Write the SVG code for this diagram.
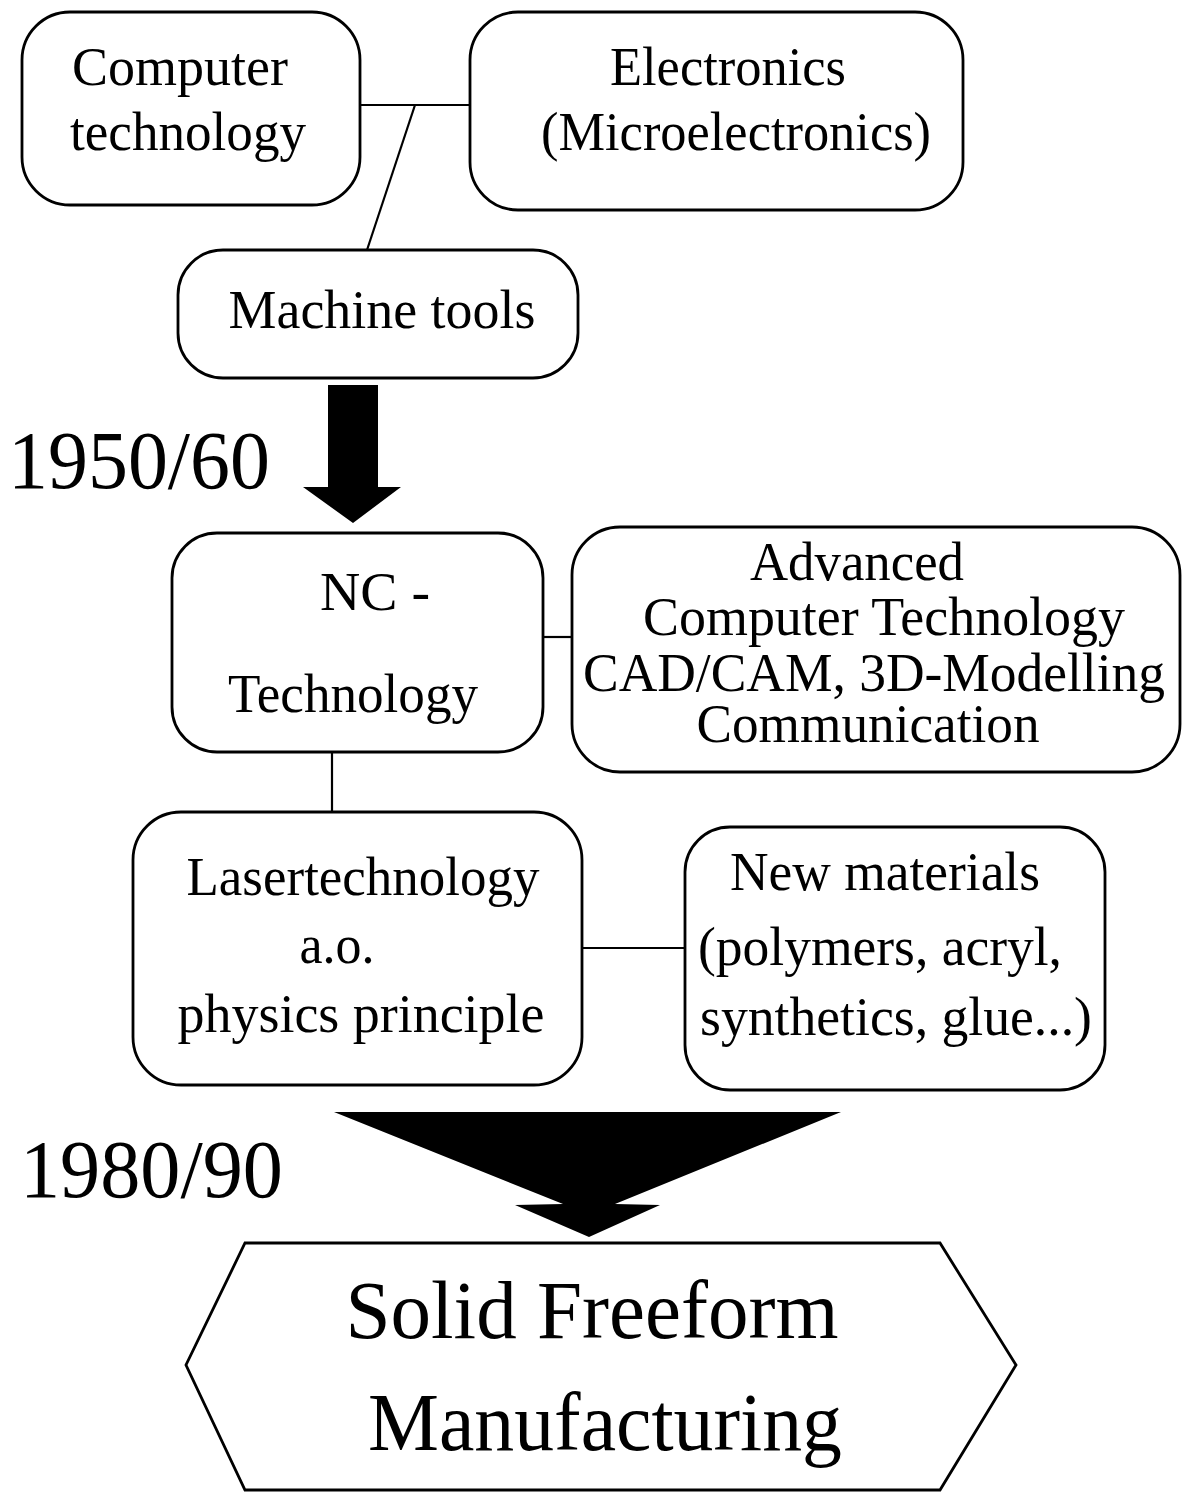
<svg xmlns="http://www.w3.org/2000/svg" width="1184" height="1494" viewBox="0 0 1184 1494">
<style>
.box{fill:#fff;stroke:#000;stroke-width:2.8}
.ln{stroke:#000;stroke-width:2.2;fill:none}
.t{font-family:"Liberation Serif","Times New Roman",serif;font-size:54px;fill:#000}
.big{font-family:"Liberation Serif","Times New Roman",serif;font-size:82px;fill:#000}
.arr{fill:#000}
</style>
<rect width="1184" height="1494" fill="#fff"/>
<g id="connectors">
<line class="ln" x1="360" y1="105" x2="470" y2="105"/>
<line class="ln" x1="415" y1="105" x2="367" y2="250"/>
<line class="ln" x1="543" y1="637" x2="572" y2="637"/>
<line class="ln" x1="332" y1="752" x2="332" y2="812"/>
<line class="ln" x1="583" y1="948" x2="685" y2="948"/>
<polygon class="arr" points="328,385 378,385 378,487 401,487 353,523 303,487 328,487"/>
<polygon class="arr" points="334,1112 841,1112 615,1204 660,1205 589,1237 515,1205 563,1204"/>
</g>
<g id="computer">
<rect class="box" x="22" y="12" width="338" height="193" rx="48"/>
<text class="t" x="180" y="85" text-anchor="middle" textLength="216" lengthAdjust="spacingAndGlyphs">Computer</text>
<text class="t" x="188" y="150" text-anchor="middle" textLength="236" lengthAdjust="spacingAndGlyphs">technology</text>
</g>
<g id="electronics">
<rect class="box" x="470" y="12" width="493" height="198" rx="48"/>
<text class="t" x="728" y="85" text-anchor="middle" textLength="236" lengthAdjust="spacingAndGlyphs">Electronics</text>
<text class="t" x="736" y="150" text-anchor="middle" textLength="390" lengthAdjust="spacingAndGlyphs">(Microelectronics)</text>
</g>
<g id="machine">
<rect class="box" x="178" y="250" width="400" height="128" rx="45"/>
<text class="t" x="382" y="328" text-anchor="middle" textLength="307" lengthAdjust="spacingAndGlyphs">Machine tools</text>
</g>
<g id="nc">
<rect class="box" x="172" y="533" width="371" height="219" rx="45"/>
<text class="t" x="375" y="610" text-anchor="middle" textLength="110" lengthAdjust="spacingAndGlyphs">NC -</text>
<text class="t" x="353" y="712" text-anchor="middle" textLength="250" lengthAdjust="spacingAndGlyphs">Technology</text>
</g>
<g id="advanced">
<rect class="box" x="572" y="527" width="608" height="245" rx="48"/>
<text class="t" x="857" y="580" text-anchor="middle" textLength="214" lengthAdjust="spacingAndGlyphs">Advanced</text>
<text class="t" x="884" y="635" text-anchor="middle" textLength="482" lengthAdjust="spacingAndGlyphs">Computer Technology</text>
<text class="t" x="874" y="691" text-anchor="middle" textLength="582" lengthAdjust="spacingAndGlyphs">CAD/CAM, 3D-Modelling</text>
<text class="t" x="868" y="742" text-anchor="middle" textLength="343" lengthAdjust="spacingAndGlyphs">Communication</text>
</g>
<g id="laser">
<rect class="box" x="133" y="812" width="449" height="273" rx="48"/>
<text class="t" x="363" y="895" text-anchor="middle" textLength="353" lengthAdjust="spacingAndGlyphs">Lasertechnology</text>
<text class="t" x="337" y="963" text-anchor="middle" textLength="75" lengthAdjust="spacingAndGlyphs">a.o.</text>
<text class="t" x="361" y="1032" text-anchor="middle" textLength="367" lengthAdjust="spacingAndGlyphs">physics principle</text>
</g>
<g id="materials">
<rect class="box" x="685" y="827" width="420" height="263" rx="45"/>
<text class="t" x="885" y="890" text-anchor="middle" textLength="310" lengthAdjust="spacingAndGlyphs">New materials</text>
<text class="t" x="880" y="965" text-anchor="middle" textLength="364" lengthAdjust="spacingAndGlyphs">(polymers, acryl,</text>
<text class="t" x="896" y="1035" text-anchor="middle" textLength="392" lengthAdjust="spacingAndGlyphs">synthetics, glue...)</text>
</g>
<g id="year1950">
<text class="big" x="8" y="488" textLength="262" lengthAdjust="spacingAndGlyphs">1950/60</text>
</g>
<g id="year1980">
<text class="big" x="20" y="1197" textLength="263" lengthAdjust="spacingAndGlyphs">1980/90</text>
</g>
<g id="sff">
<polygon class="box" points="245,1243 940,1243 1016,1365 940,1490 245,1490 186,1365"/>
<text class="big" x="592" y="1338" text-anchor="middle" textLength="493" lengthAdjust="spacingAndGlyphs">Solid Freeform</text>
<text class="big" x="605" y="1450" text-anchor="middle" textLength="474" lengthAdjust="spacingAndGlyphs">Manufacturing</text>
</g>
</svg>
